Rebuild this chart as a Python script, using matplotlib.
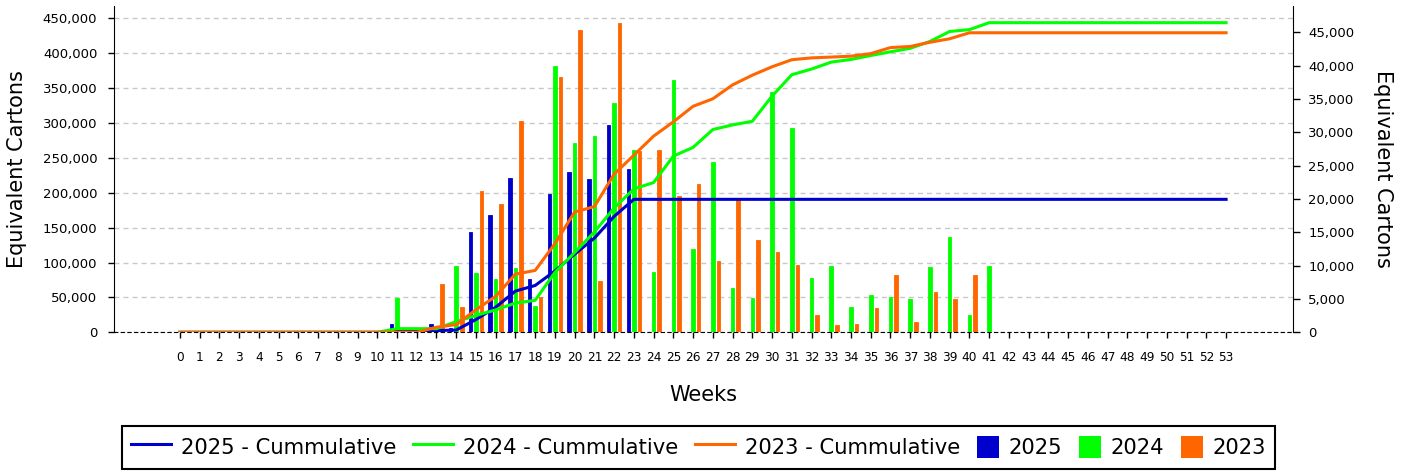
import matplotlib
matplotlib.use('Agg')
import matplotlib.pyplot as plt
import numpy as np
from matplotlib.ticker import StrMethodFormatter
from matplotlib.patches import Rectangle
from matplotlib.container import BarContainer
from matplotlib.legend_handler import HandlerPatch

weeks = np.arange(0, 54)

# weekly volumes (right axis), weeks 0..53
w2025 = [0, 0, 0, 0, 0, 0, 0, 0, 0, 0, 0,
         1250, 0, 1250, 700, 15100, 17600, 23150, 8050, 20800, 24050,
         23000, 31100, 24500, 0, 0, 0, 0, 0, 0, 0,
         0, 0, 0, 0, 0, 0, 0, 0, 0, 0,
         0, 0, 0, 0, 0, 0, 0, 0, 0, 0,
         0, 0, 0]
w2024 = [0, 0, 0, 0, 0, 0, 0, 0, 0, 0, 0,
         5190, 0, 0, 10000, 8950, 8000, 9700, 4000, 40000, 28450,
         29450, 34400, 27350, 9100, 37900, 12500, 25550, 6650, 5200, 36050,
         30650, 8150, 9950, 3850, 5600, 5350, 5000, 9800, 14300, 2650,
         9950, 0, 0, 0, 0, 0, 0, 0, 0, 0,
         0, 0, 0]
w2023 = [0, 0, 0, 0, 0, 0, 0, 0, 0, 0, 0,
         0, 0, 7250, 3850, 21200, 19300, 31750, 5300, 38350, 45400,
         7700, 46450, 27250, 27350, 20450, 22300, 10700, 19950, 13900, 12050,
         10100, 2650, 1150, 1300, 3700, 8600, 1600, 6050, 5000, 8600,
         0, 0, 0, 0, 0, 0, 0, 0, 0, 0,
         0, 0, 0]

# cumulative totals (left axis)
c2025 = [0, 0, 0, 0, 0, 0, 0, 0, 0, 0, 0,
         1250, 1250, 2500, 3200, 18300, 35900, 59050, 67100, 87900, 111950,
         134950, 166050, 190550, 190550, 190550, 190550, 190550, 190550, 190550, 190550,
         190550, 190550, 190550, 190550, 190550, 190550, 190550, 190550, 190550, 190550,
         190550, 190550, 190550, 190550, 190550, 190550, 190550, 190550, 190550, 190550,
         190550, 190550, 190550]
c2024 = [0, 0, 0, 0, 0, 0, 0, 0, 0, 0, 0,
         5190, 5190, 5190, 15190, 24140, 32140, 41840, 45840, 85840, 114290,
         143740, 178140, 205490, 214590, 252490, 264990, 290540, 297190, 302390, 338440,
         369090, 377240, 387190, 391040, 396640, 401990, 406990, 416790, 431090, 433740,
         443690, 443690, 443690, 443690, 443690, 443690, 443690, 443690, 443690, 443690,
         443690, 443690, 443690]
c2023 = [0, 0, 0, 0, 0, 0, 0, 0, 0, 0, 0,
         0, 0, 7250, 11100, 32300, 51600, 83350, 88650, 127000, 172400,
         180100, 226550, 253800, 281150, 301600, 323900, 334600, 354550, 368450, 380500,
         390600, 393250, 394400, 395700, 399400, 408000, 409600, 415650, 420650, 429250,
         429250, 429250, 429250, 429250, 429250, 429250, 429250, 429250, 429250, 429250,
         429250, 429250, 429250]

col25 = '#0000cc'
col24 = '#00ff00'
col23 = '#ff6600'


class SquareHandler(HandlerPatch):
    # square legend keys, narrower than the line keys
    def legend_artist(self, legend, orig_handle, fontsize, handlebox):
        s = 15.8
        handlebox.width = s
        y0 = (handlebox.height - s) / 2 - handlebox.ydescent
        sq = Rectangle((0, y0), s, s, facecolor=orig_handle[0].get_facecolor(), linewidth=0)
        handlebox.add_artist(sq)
        return sq


fig = plt.figure(figsize=(14.03, 4.71), dpi=100)
rect = [114.3 / 1403, (471 - 332.3) / 471, (1293 - 114.3) / 1403, (332.3 - 6) / 471]
ax = fig.add_axes(rect)
ax_bar = ax.twinx()
ax_line = fig.add_axes(rect, sharex=ax, sharey=ax)
ax_line.axis('off')
ax_line.patch.set_visible(False)

bw = 0.18
b25 = ax_bar.bar(weeks - 0.28, w2025, bw, color=col25, edgecolor=col25, linewidth=0.6)
b24 = ax_bar.bar(weeks, w2024, bw, color=col24, edgecolor=col24, linewidth=0.6)
b23 = ax_bar.bar(weeks + 0.28, w2023, bw, color=col23, edgecolor=col23, linewidth=0.6)

l25, = ax_line.plot(weeks, c2025, color=col25, lw=2.2)
l24, = ax_line.plot(weeks, c2024, color=col24, lw=2.2)
l23, = ax_line.plot(weeks, c2023, color=col23, lw=2.2)

ax.set_xlim(-3.32, 56.39)
ax.set_ylim(0, 467600)
ax_bar.set_ylim(0, 48950)

ax.set_xticks(weeks)
ax.set_yticks(np.arange(0, 450001, 50000))
ax_bar.set_yticks(np.arange(0, 45001, 5000))
ax.yaxis.set_major_formatter(StrMethodFormatter('{x:,.0f}'))
ax_bar.yaxis.set_major_formatter(StrMethodFormatter('{x:,.0f}'))

ax.tick_params(axis='x', length=4.3, width=1, pad=8.9, labelsize=8.7)
ax.tick_params(axis='y', length=4.3, width=1, pad=7.9, labelsize=9.5)
ax_bar.tick_params(axis='y', length=4.8, width=1, pad=6.2, labelsize=9.5)

ax.yaxis.grid(True, color='#c8c8c8', linestyle=(0, (3.6, 2.9)), linewidth=1)

ax.spines['top'].set_visible(False)
ax.spines['right'].set_visible(False)
ax.spines['bottom'].set_linestyle((0, (3, 3)))
for s in ['top', 'bottom', 'left']:
    ax_bar.spines[s].set_visible(False)

ax.set_xlabel('Weeks', fontsize=15, labelpad=15.5)
ax.set_ylabel('Equivalent Cartons', fontsize=15, labelpad=11)
ax_bar.set_ylabel('Equivalent Cartons', fontsize=15, rotation=270, va='bottom', labelpad=13.5)

leg = fig.legend([l25, l24, l23, b25, b24, b23],
                 ['2025 - Cummulative', '2024 - Cummulative', '2023 - Cummulative',
                  '2025', '2024', '2023'],
                 loc='upper center', bbox_to_anchor=(0.4979, 0.0955), ncol=6,
                 borderaxespad=0, fontsize=15.2, handlelength=1.9, handleheight=1.5,
                 handletextpad=0.48, columnspacing=0.78, fancybox=False, framealpha=1,
                 edgecolor='black', handler_map={BarContainer: SquareHandler()})
leg.get_frame().set_linewidth(1.5)

fig.savefig('out.png', dpi=100)
